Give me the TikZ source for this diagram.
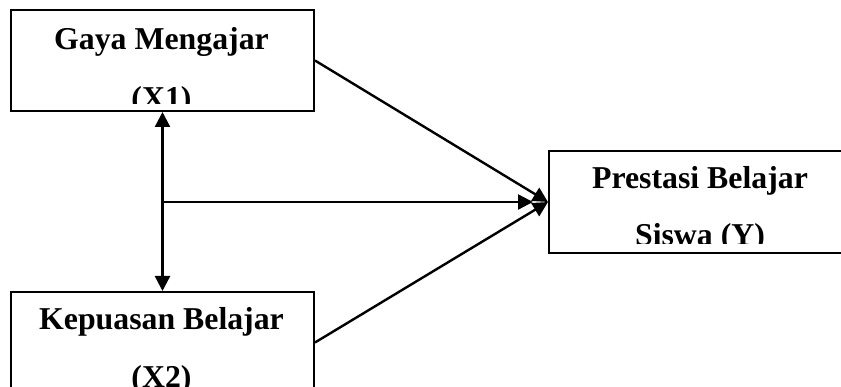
\documentclass[tikz,border=0pt]{standalone}
\usepackage{fontspec}
\setmainfont{Liberation Serif}
\usetikzlibrary{arrows.meta}
\begin{document}
\begin{tikzpicture}[x=1pt,y=-1pt,
  box/.style={draw, line width=2pt, inner sep=0pt, anchor=north west},
  lbl/.style={font=\fontsize{31.8}{36}\selectfont\bfseries, anchor=base, inner sep=0pt},
  tip/.tip={Triangle[length=15pt,width=15pt]},
  conn/.style={line width=2.4pt, -tip}]
\useasboundingbox (0,0) rectangle (841,387);
\fill[white] (0,0) rectangle (841,387);
% boxes
\node[box, minimum width=303pt, minimum height=101pt] (x1) at (10,9) {};
\node[box, minimum width=304pt, minimum height=102pt] (y) at (548,150) {};
\node[box, minimum width=303pt, minimum height=101pt] (x2) at (10,291) {};
% texts clipped to the text frames inside the boxes
\begin{scope}
\clip (x1.north west) rectangle ([yshift=8.5pt]x1.south east);
\node[lbl] (t1a) at (161.5,50) {Gaya Mengajar};
\node[lbl] (t1b) at (161.5,109) {(X1)};
\end{scope}
\begin{scope}
\clip (y.north west) rectangle ([yshift=10.5pt]y.south east);
\node[lbl] (tya) at (700,189) {Prestasi Belajar};
\node[lbl] (tyb) at (700,246) {Siswa (Y)};
\end{scope}
\begin{scope}
\clip (x2.north west) rectangle ([yshift=2pt]x2.south east);
\node[lbl] (t2a) at (161.5,330) {Kepuasan Belajar};
\node[lbl] (t2b) at (161.5,388) {(X2)};
\end{scope}
% connectors
\draw[line width=2.4pt, tip-tip] (x1.south) -- (x2.north);
\coordinate (m) at (x1.south |- y.west);
\draw[conn, shorten >=15pt] (m) -- (y.west);
\draw[conn] (x1.east) -- (y.west);
\draw[conn] (x2.east) -- (y.west);
\end{tikzpicture}
\end{document}
